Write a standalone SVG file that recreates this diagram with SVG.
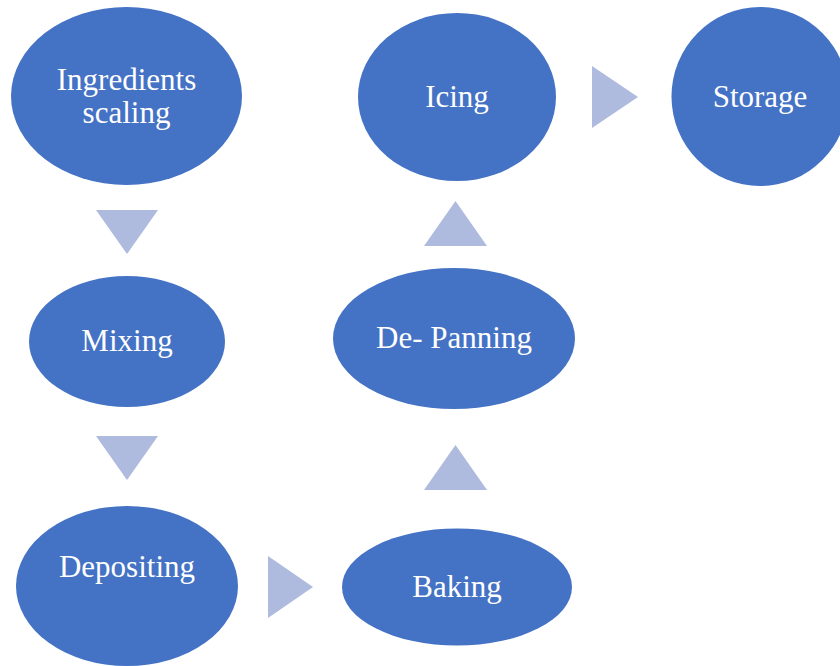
<svg xmlns="http://www.w3.org/2000/svg" width="840" height="666" viewBox="0 0 840 666">
<style>
.n{fill:#4472C4}
.t{fill:#FFFFFF;font-family:"Liberation Serif","Times New Roman",serif;font-size:31px;text-anchor:middle}
.a{fill:#AEBBDE}
</style>
<rect width="840" height="666" fill="#FFFFFF"/>
<g id="connectors">
<polygon class="a" points="96,210 158,210 127,254"/>
<polygon class="a" points="96,436 158,436 127,480"/>
<polygon class="a" points="268,556 268,618 313,587"/>
<polygon class="a" points="424,490 487,490 455.5,445"/>
<polygon class="a" points="424,246 487,246 455.5,201"/>
<polygon class="a" points="592,66 592,128 638,97"/>
</g>
<g id="node-ingredients">
<ellipse class="n" cx="126.5" cy="96" rx="115.5" ry="89"/>
<text class="t" x="126.5" y="90">Ingredients</text>
<text class="t" x="126.5" y="123">scaling</text>
</g>
<g id="node-mixing">
<ellipse class="n" cx="127" cy="341.5" rx="98" ry="65.5"/>
<text class="t" x="127" y="351">Mixing</text>
</g>
<g id="node-depositing">
<ellipse class="n" cx="127" cy="586" rx="111" ry="80"/>
<text class="t" x="127" y="577">Depositing</text>
</g>
<g id="node-baking">
<ellipse class="n" cx="457" cy="587" rx="115" ry="58.5"/>
<text class="t" x="457" y="597">Baking</text>
</g>
<g id="node-depanning">
<ellipse class="n" cx="454" cy="338.5" rx="121" ry="70.5"/>
<text class="t" x="454" y="348">De- Panning</text>
</g>
<g id="node-icing">
<ellipse class="n" cx="457" cy="97" rx="99" ry="84"/>
<text class="t" x="457" y="107">Icing</text>
</g>
<g id="node-storage">
<ellipse class="n" cx="760" cy="96.5" rx="88.5" ry="89.5"/>
<text class="t" x="760" y="107">Storage</text>
</g>
</svg>
